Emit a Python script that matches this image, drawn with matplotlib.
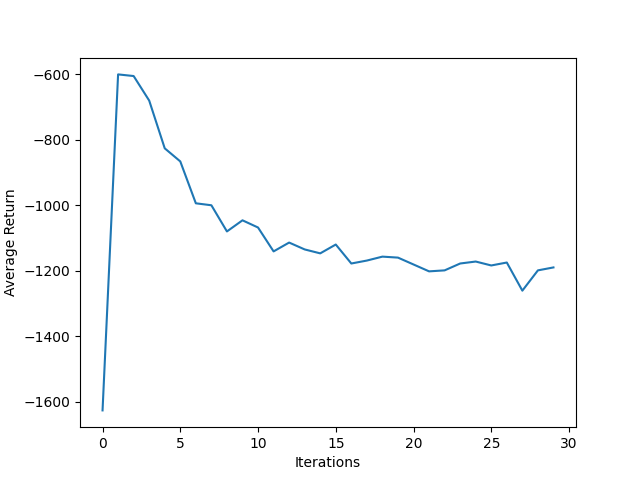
import matplotlib
matplotlib.use("Agg")
import matplotlib.pyplot as plt

iterations = list(range(30))
avg_return = [-1627, -600, -605, -680, -826, -866, -994, -1000, -1080, -1046,
              -1068, -1141, -1114, -1135, -1147, -1120, -1178, -1169, -1157, -1160,
              -1181, -1202, -1199, -1178, -1172, -1184, -1175, -1261, -1199, -1190]

fig = plt.figure(figsize=(6.4, 4.8), dpi=100)
plt.plot(iterations, avg_return)
plt.xlabel("Iterations")
plt.ylabel("Average Return")
plt.savefig("out.png")
